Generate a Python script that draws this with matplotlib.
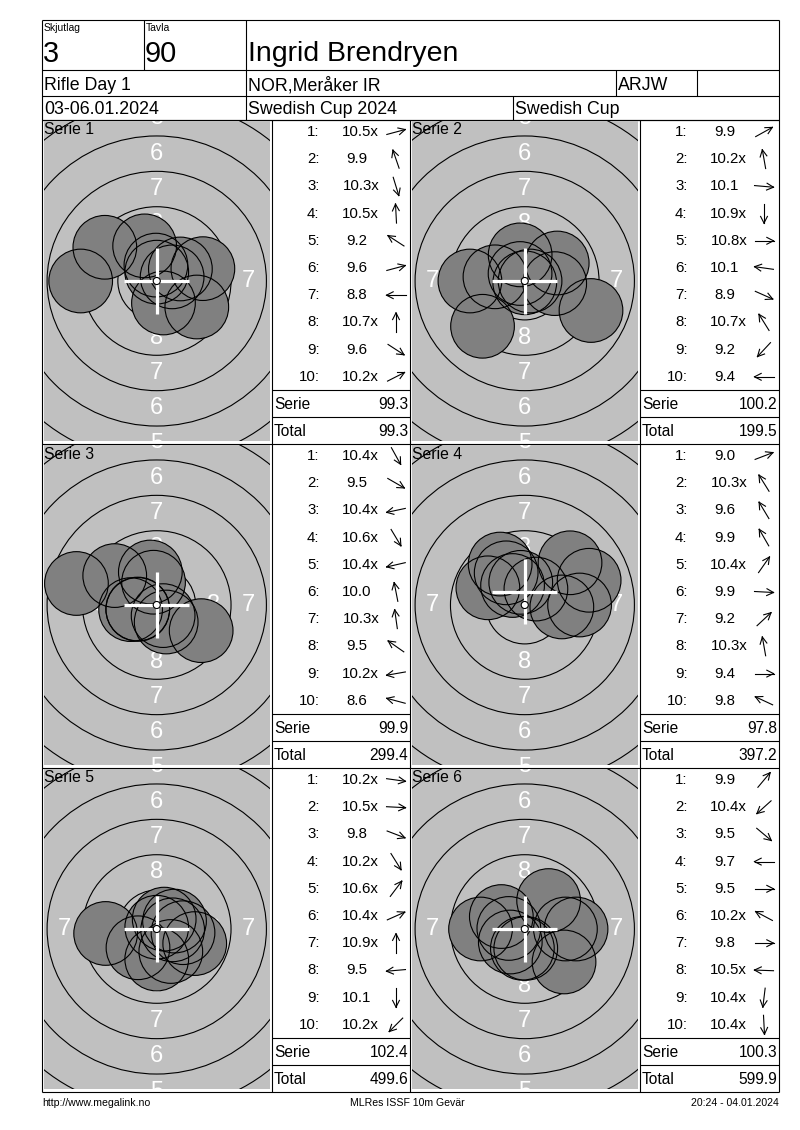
import numpy as np
import matplotlib
matplotlib.use("Agg")
import matplotlib.pyplot as plt
from matplotlib.patches import Circle

plt.rcParams['font.family'] = ['Liberation Sans', 'DejaVu Sans']

# ---------------- data ----------------
relay_label = "Skjutlag"
relay = "3"
target_label = "Tavla"
target_no = "90"
shooter = "Ingrid Brendryen"
event = "Rifle Day 1"
club = "NOR,Meråker IR"
shooter_class = "ARJW"
dates = "03-06.01.2024"
competition = "Swedish Cup 2024"
cup = "Swedish Cup"
footer_left = "http://www.megalink.no"
footer_mid = "MLRes ISSF 10m Gevär"
footer_right = "20:24 - 04.01.2024"

series_names = ["Serie 1", "Serie 2", "Serie 3", "Serie 4", "Serie 5", "Serie 6"]

# shot scores as displayed (x = inner ten)
serie1_scores = ["10.5x", "9.9", "10.3x", "10.5x", "9.2", "9.6", "8.8", "10.7x", "9.6", "10.2x"]
serie2_scores = ["9.9", "10.2x", "10.1", "10.9x", "10.8x", "10.1", "8.9", "10.7x", "9.2", "9.4"]
serie3_scores = ["10.4x", "9.5", "10.4x", "10.6x", "10.4x", "10.0", "10.3x", "9.5", "10.2x", "8.6"]
serie4_scores = ["9.0", "10.3x", "9.6", "9.9", "10.4x", "9.9", "9.2", "10.3x", "9.4", "9.8"]
serie5_scores = ["10.2x", "10.5x", "9.8", "10.2x", "10.6x", "10.4x", "10.9x", "9.5", "10.1", "10.2x"]
serie6_scores = ["9.9", "10.4x", "9.5", "9.7", "9.5", "10.2x", "9.8", "10.5x", "10.4x", "10.4x"]

# direction of each shot from the target centre (degrees, 0 = right, 90 = up)
serie1_angles = [15, 109, -73, 93, 147, 15, 180, 90, -33, 27]
serie2_angles = [29, 100, -5, -90, 0, 172, -24, 122, 227, 180]
serie3_angles = [-61, -30, 192, -59, 193, 101, 98, 145, 190, 165]
serie4_angles = [21, 122, 121, 120, 55, -3, 43, 100, 0, 155]
serie5_angles = [-8, -3, -21, -58, 53, 24, 90, 185, -90, 225]
serie6_angles = [50, 222, -40, 180, 0, 152, 0, 178, -97, -87]

series_sums = ["99.3", "100.2", "99.9", "97.8", "102.4", "100.3"]
running_totals = ["99.3", "199.5", "299.4", "397.2", "499.6", "599.9"]

# position of the white cross marker per series (mm from target centre)
cross_x_mm = [0.0, 0.0, 0.0, 0.0, 0.0, 0.0]
cross_y_mm = [0.0, 0.0, 0.0, 0.95, 0.0, 0.0]

# ISSF 10 m air rifle target (mm)
ring_radii_mm = [2.75, 5.25, 7.75, 10.25, 12.75, 15.25]
ring_label_values = ["8", "7", "6", "5"]
ring_label_radii_mm = [4.0, 6.5, 9.0, 11.5]
pellet_radius_mm = 2.25
ten_dot_mm = 0.25
decimal_step_mm = 2.5   # 1.0 point of decimal score in mm

all_scores = [serie1_scores, serie2_scores, serie3_scores, serie4_scores, serie5_scores, serie6_scores]
all_angles = [serie1_angles, serie2_angles, serie3_angles, serie4_angles, serie5_angles, serie6_angles]

# ---------------- layout (pixels) ----------------
W, H = 800, 1130
PX_PER_MM = 14.15
LW = 0.8
GRAY_BG = "#c0c0c0"
SHOT = "#808080"

fig = plt.figure(figsize=(W / 100, H / 100), dpi=100)
ax0 = fig.add_axes([0, 0, 1, 1])
ax0.set_xlim(0, W)
ax0.set_ylim(H, 0)
ax0.axis("off")


def hline(x0, x1, y):
    ax0.plot([x0, x1], [y, y], color="black", lw=LW, solid_capstyle="butt")


def vline(x, y0, y1):
    ax0.plot([x, x], [y0, y1], color="black", lw=LW, solid_capstyle="butt")


def txt(x, y, s, size, ha="left", color="black"):
    ax0.text(x, y, s, fontsize=size, ha=ha, va="center", color=color)


# header grid
L, R = 42, 779
top, r1, r2, r3 = 20, 70, 96, 120
for y in (top, r1, r2, r3):
    hline(L, R, y)
vline(L, top, 1092)
vline(R, top, 1092)
vline(144, top, r1)
vline(246, top, r1)
vline(246, r1, r2)
vline(616, r1, r2)
vline(697, r1, r2)
vline(246, r2, r3)
vline(513, r2, r3)

txt(44, 28, relay_label, 7.5)
txt(146, 28, target_label, 7.5)
txt(43, 54, relay, 20.8)
txt(145, 54, target_no, 20.8)
txt(248, 54, shooter, 20.5)
txt(44, 85.5, event, 12.8)
txt(248, 85.5, club, 12.8)
txt(618, 85.5, shooter_class, 12.8)
txt(44, 109.5, dates, 12.8)
txt(248, 109.5, competition, 12.8)
txt(515, 109.5, cup, 12.8)

# main grid
block_h = 324
for k in range(4):
    hline(L, R, r3 + k * block_h)
for x in (272, 410, 640):
    vline(x, r3, r3 + 3 * block_h)

txt(42, 1103, footer_left, 7.6)
txt(407, 1103, footer_mid, 7.6, ha="center")
txt(779, 1103, footer_right, 7.6, ha="right")


def draw_arrow(cx, cy, ang, length=19, head=7.5, spread=27):
    t = np.radians(ang)
    ux, uy = np.cos(t), -np.sin(t)
    hx, hy = cx + length / 2 * ux, cy + length / 2 * uy
    tx, ty = cx - length / 2 * ux, cy - length / 2 * uy
    ax0.plot([tx, hx], [ty, hy], color="black", lw=LW)
    for s in (1, -1):
        a = t + np.pi + s * np.radians(spread)
        ax0.plot([hx, hx + head * np.cos(a)], [hy, hy - head * np.sin(a)], color="black", lw=LW)


col_cells = [(42, 272, 410), (410, 640, 779)]

for i in range(6):
    col, row = i % 2, i // 2
    cell_l, table_l, table_r = col_cells[col]
    bt = r3 + row * block_h
    scores = all_scores[i]
    angles = all_angles[i]

    # ---- score table ----
    hline(table_l, table_r, bt + 270)
    hline(table_l, table_r, bt + 297)
    for k, (sc, ang) in enumerate(zip(scores, angles)):
        y = bt + 12 + k * 27.2
        txt(table_l + 47.5, y, f"{k + 1}:", 10.8, ha="right")
        if sc.endswith("x"):
            txt(table_l + 88.8, y, sc, 10.8, ha="center")
        else:
            txt(table_l + 84.5, y, sc, 10.8, ha="center")
        draw_arrow(table_l + 124, y, ang)
    txt(table_l + 2, bt + 284.5, "Serie", 11.2)
    txt(table_r - 1.5, bt + 284.5, series_sums[i], 11.2, ha="right")
    txt(table_l + 2, bt + 311.5, "Total", 11.2)
    txt(table_r - 1.5, bt + 311.5, running_totals[i], 11.2, ha="right")

    # ---- target ----
    gx0, gx1 = cell_l + 2, table_l - 2.5
    gy0, gy1 = bt + 1, bt + 321
    ax = fig.add_axes([gx0 / W, 1 - gy1 / H, (gx1 - gx0) / W, (gy1 - gy0) / H])
    hw = (gx1 - gx0) / 2 / PX_PER_MM
    hh = (gy1 - gy0) / 2 / PX_PER_MM
    ax.set_xlim(-hw, hw)
    ax.set_ylim(-hh, hh)
    ax.set_facecolor(GRAY_BG)
    for sp in ax.spines.values():
        sp.set_visible(False)
    ax.set_xticks([])
    ax.set_yticks([])

    for rr in ring_radii_mm:
        ax.add_patch(Circle((0, 0), rr, fill=False, ec="black", lw=LW, zorder=2))
    for lab, rl in zip(ring_label_values, ring_label_radii_mm):
        for (dx, dy) in ((0, rl), (0, -rl), (rl, 0), (-rl, 0)):
            if abs(dx) > hw - 0.3:
                continue
            ax.text(dx, dy, lab, color="white", fontsize=17, ha="center", va="center",
                    zorder=3, clip_on=True)

    vals = np.array([float(s.rstrip("x")) for s in scores])
    dist = (10.9 - vals) * decimal_step_mm + 0.125
    th = np.radians(angles)
    xs = dist * np.cos(th)
    ys = dist * np.sin(th)
    for x, y in zip(xs, ys):
        ax.add_patch(Circle((x, y), pellet_radius_mm, fc=SHOT, ec="none", zorder=4))
    for x, y in zip(xs, ys):
        ax.add_patch(Circle((x, y), pellet_radius_mm, fill=False, ec="black", lw=LW, zorder=5))

    arm = 2.3
    cxm, cym = cross_x_mm[i], cross_y_mm[i]
    ax.plot([cxm - arm, cxm + arm], [cym, cym], color="white", lw=2.3, zorder=6, solid_capstyle="butt")
    ax.plot([cxm, cxm], [cym - arm, cym + arm], color="white", lw=2.3, zorder=6, solid_capstyle="butt")
    ax.add_patch(Circle((0, 0), ten_dot_mm, fc="white", ec="black", lw=LW, zorder=7))

    ax.text(-hw + 0.02, hh - 9 / PX_PER_MM, series_names[i], fontsize=11.3, ha="left",
            va="center", color="black", zorder=8)

fig.savefig("out.png", dpi=100, facecolor="white")
